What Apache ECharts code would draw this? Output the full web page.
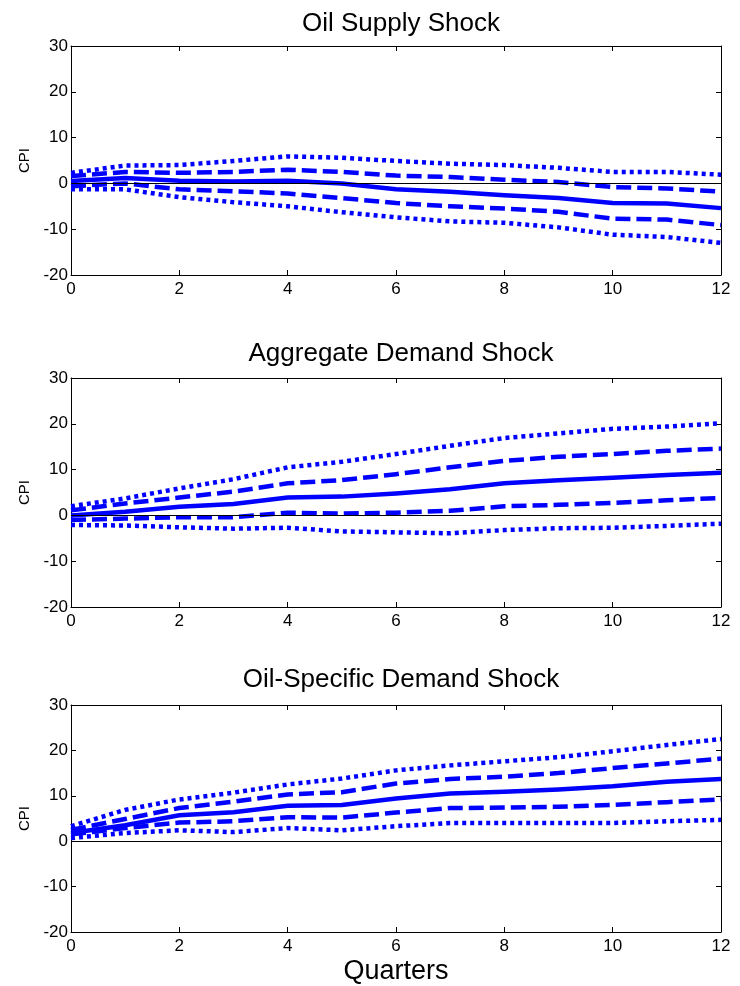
<!DOCTYPE html>
<html><head><meta charset="utf-8">
<script src="https://cdn.jsdelivr.net/npm/echarts@6/dist/echarts.min.js"></script>
<style>html,body{margin:0;padding:0;background:#fff}#c{width:740px;height:986px}</style>
</head><body><div id="c"></div>
<script>
// ---- data ----
const quarters = [0,1,2,3,4,5,6,7,8,9,10,11,12];
const panelTitles = ['Oil Supply Shock', 'Aggregate Demand Shock', 'Oil-Specific Demand Shock'];
const yTicks = [-20, -10, 0, 10, 20, 30];
const xTicks = [0, 2, 4, 6, 8, 10, 12];

// Oil supply shock
const supplyMedian  = [0.5, 1.2, 0.6, 0.4, 0.6, 0.0, -1.3, -1.8, -2.6, -3.2, -4.3, -4.4, -5.4];
const supplyUp1     = [1.6, 2.5, 2.3, 2.5, 3.0, 2.5, 1.7, 1.4, 0.8, 0.3, -0.8, -1.1, -1.8];
const supplyLo1     = [-0.6, 0.0, -1.3, -1.7, -2.2, -3.2, -4.3, -5.0, -5.5, -6.2, -7.7, -7.9, -9.1];
const supplyUp2     = [2.3, 3.9, 4.0, 4.9, 5.9, 5.6, 4.9, 4.3, 4.0, 3.4, 2.5, 2.5, 1.9];
const supplyLo2     = [-1.3, -1.3, -3.0, -4.1, -5.0, -6.3, -7.4, -8.3, -8.6, -9.6, -11.2, -11.7, -13.0];

// Aggregate demand shock
const aggMedian = [0.0, 0.8, 1.9, 2.5, 3.9, 4.1, 4.8, 5.7, 7.0, 7.7, 8.2, 8.8, 9.3];
const aggUp1    = [1.1, 2.6, 3.9, 5.2, 7.0, 7.7, 9.0, 10.5, 11.9, 12.8, 13.4, 14.1, 14.6];
const aggLo1    = [-1.0, -0.7, -0.4, -0.4, 0.6, 0.4, 0.6, 1.0, 2.0, 2.3, 2.7, 3.3, 3.8];
const aggUp2    = [2.0, 3.7, 5.9, 7.9, 10.5, 11.7, 13.4, 15.2, 16.9, 17.9, 18.9, 19.4, 20.1];
const aggLo2    = [-2.1, -2.2, -2.6, -2.9, -2.7, -3.5, -3.7, -3.9, -3.2, -2.8, -2.7, -2.3, -1.8];

// Oil-specific demand shock
const oilMedian = [1.8, 3.5, 5.7, 6.4, 7.8, 8.0, 9.4, 10.5, 10.9, 11.4, 12.1, 13.1, 13.7];
const oilUp1    = [2.5, 4.9, 7.3, 8.7, 10.3, 10.8, 12.7, 13.7, 14.2, 15.0, 16.1, 17.1, 18.2];
const oilLo1    = [1.5, 2.9, 4.1, 4.4, 5.3, 5.2, 6.3, 7.3, 7.4, 7.6, 8.0, 8.6, 9.2];
const oilUp2    = [3.3, 6.9, 9.2, 10.7, 12.5, 13.8, 15.6, 16.7, 17.6, 18.5, 19.8, 21.2, 22.5];
const oilLo2    = [0.7, 1.8, 2.4, 2.0, 2.9, 2.4, 3.3, 4.0, 4.0, 4.0, 4.0, 4.4, 4.7];

const panels = [
  {median: supplyMedian, up1: supplyUp1, lo1: supplyLo1, up2: supplyUp2, lo2: supplyLo2},
  {median: aggMedian, up1: aggUp1, lo1: aggLo1, up2: aggUp2, lo2: aggLo2},
  {median: oilMedian, up1: oilUp1, lo1: oilLo1, up2: oilUp2, lo2: oilLo2}
];

// ---- layout ----
const FONT = 'Liberation Sans, Arial, sans-serif';
const gridTops = [46, 378, 705];
const titleTops = [6, 336, 662];
const GRID_LEFT = 71, GRID_W = 650, GRID_H = 229;
const BLUE = '#0000ff';

const chart = echarts.init(document.getElementById('c'), null, {renderer: 'canvas'});

const grids = [], xAxes = [], yAxes = [], series = [], titles = [];
const tickStyle = {show: true, inside: true, length: 5, lineStyle: {color: '#000', width: 1}};
const lineStyleAxis = {show: true, onZero: false, lineStyle: {color: '#000', width: 1}};

panels.forEach((p, i) => {
  grids.push({left: GRID_LEFT, top: gridTops[i], width: GRID_W, height: GRID_H, containLabel: false});
  titles.push({
    text: panelTitles[i], left: GRID_LEFT + GRID_W / 2, top: titleTops[i], textAlign: 'center',
    textStyle: {fontFamily: FONT, fontSize: 26, fontWeight: 'normal', color: '#000', lineHeight: 26}
  });
  const xBase = {
    type: 'value', gridIndex: i, min: xTicks[0], max: xTicks[xTicks.length - 1], interval: 2,
    axisLine: lineStyleAxis, axisTick: tickStyle, splitLine: {show: false}
  };
  xAxes.push(Object.assign({}, xBase, {
    position: 'bottom',
    axisLabel: {show: true, color: '#000', fontFamily: FONT, fontSize: 17, margin: 6},
    name: i === 2 ? 'Quarters' : '', nameLocation: 'middle', nameGap: 26,
    nameTextStyle: {fontFamily: FONT, fontSize: 27, color: '#000'}
  }));
  xAxes.push(Object.assign({}, xBase, {position: 'top', axisLabel: {show: false}}));
  const yBase = {
    type: 'value', gridIndex: i, min: yTicks[0], max: yTicks[yTicks.length - 1], interval: 10,
    axisLine: lineStyleAxis, axisTick: tickStyle, splitLine: {show: false}
  };
  yAxes.push(Object.assign({}, yBase, {
    position: 'left',
    axisLabel: {show: true, color: '#000', fontFamily: FONT, fontSize: 17, margin: 3},
    name: 'CPI', nameLocation: 'middle', nameRotate: 90, nameGap: 38,
    nameTextStyle: {fontFamily: FONT, fontSize: 15, color: '#000'}
  }));
  yAxes.push(Object.assign({}, yBase, {position: 'right', axisLabel: {show: false}}));

  const mk = (arr, type, width, zero) => {
    const s = {
      type: 'line', xAxisIndex: 2 * i, yAxisIndex: 2 * i,
      data: quarters.map((q, k) => [q, arr[k]]),
      showSymbol: false, symbol: 'none', animation: false, silent: true,
      lineStyle: {color: BLUE, width: width, type: type, cap: 'butt', join: 'miter'}
    };
    if (zero) {
      s.markLine = {
        silent: true, symbol: ['none', 'none'], label: {show: false}, animation: false,
        lineStyle: {color: '#000', width: 1, type: 'solid'},
        data: [{yAxis: 0}]
      };
    }
    return s;
  };
  series.push(mk(p.up2, [4, 4], 4.5, true));
  series.push(mk(p.lo2, [4, 4], 4.5, false));
  series.push(mk(p.up1, [15, 6], 4.5, false));
  series.push(mk(p.lo1, [15, 6], 4.5, false));
  series.push(mk(p.median, 'solid', 4.5, false));
});

chart.setOption({
  backgroundColor: '#fff',
  animation: false,
  title: titles,
  grid: grids,
  xAxis: xAxes,
  yAxis: yAxes,
  series: series
});
</script>
</body></html>
